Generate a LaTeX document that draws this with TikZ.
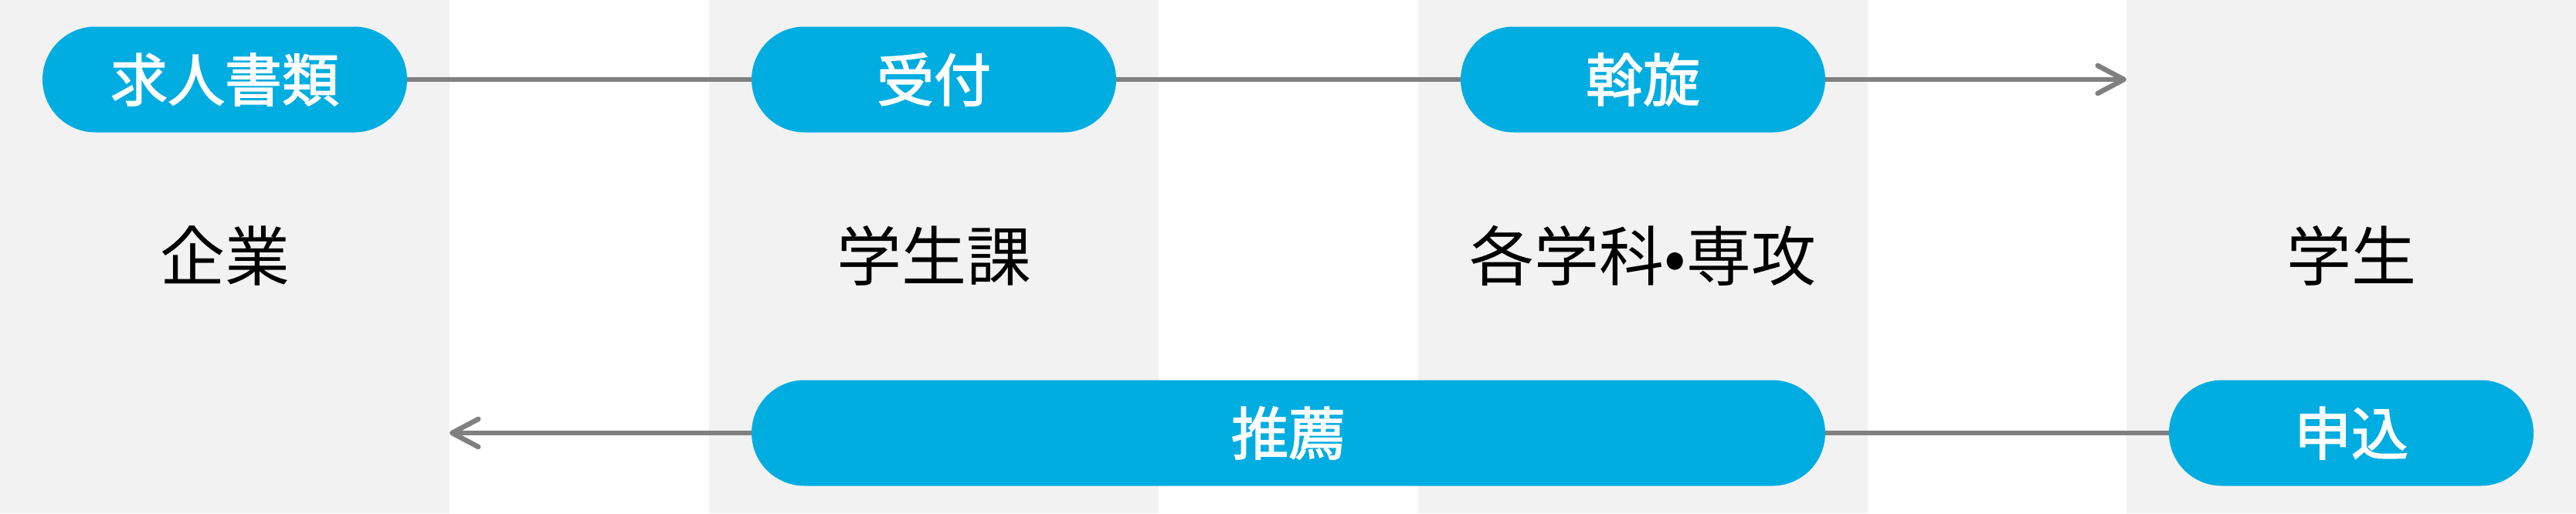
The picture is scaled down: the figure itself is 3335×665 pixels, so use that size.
\documentclass[tikz,border=0pt]{standalone}
\usepackage{fontspec}
\setmainfont{Noto Sans CJK JP}
\newfontfamily\pillface[FakeBold=2]{Noto Sans CJK JP}
\usetikzlibrary{arrows.meta}

\definecolor{pillblue}{HTML}{00ADE0}
\definecolor{lanegray}{HTML}{F2F2F2}
\definecolor{flowgray}{HTML}{808080}

\begin{document}
\begin{tikzpicture}[x=1pt, y=-1pt,
    pill/.style={fill=pillblue, text=white, font={\pillface\fontsize{74pt}{80pt}\selectfont},
        rounded corners=68.5pt, minimum width=472pt, minimum height=137pt, inner sep=0pt},
    party/.style={text=black, font={\fontsize{84pt}{90pt}\selectfont}, inner sep=0pt},
    flow/.style={draw=flowgray, line width=6.5pt},
    flowarrow/.style={flow, -{Straight Barb[length=34pt, width=36pt, round]}}]
    \useasboundingbox (0,0) rectangle (3335,665);
    % lanes
    \fill[white] (0,0) rectangle (3335,665);
    \foreach \x in {0, 918, 1836, 2753}
        \fill[lanegray] (\x,0) rectangle +(582,665);

    % who
    \node[party] (kigyo)   at (291,331)  {企業};
    \node[party] (gakuseika) at (1209,331) {学生課};
    \node[party] (gakka)   at (2127,331) {各学科•専攻};
    \node[party] (gakusei) at (3044,331) {学生};

    \coordinate (to gakusei) at (2753,103);
    \coordinate (to kigyo)   at (582,561);

    % upper flow
    \draw[flow] (291,103) -- (2127,103);
    \draw[flowarrow] (2127,103) -- (to gakusei);
    \node[pill] (kyujin)   at (291,103)  {求人書類};
    \node[pill] (uketsuke) at (1209,103) {受付};
    \node[pill] (assen)    at (2127,103) {斡旋};

    % lower flow
    \node[pill] (moshikomi) at (3044,561) {申込};
    \node[pill, minimum width=1390pt] (suisen) at (1668,561) {推薦};
    \draw[flow] (moshikomi.west) -- (suisen.east);
    \draw[flowarrow] (suisen.west) -- (to kigyo);
\end{tikzpicture}
\end{document}
